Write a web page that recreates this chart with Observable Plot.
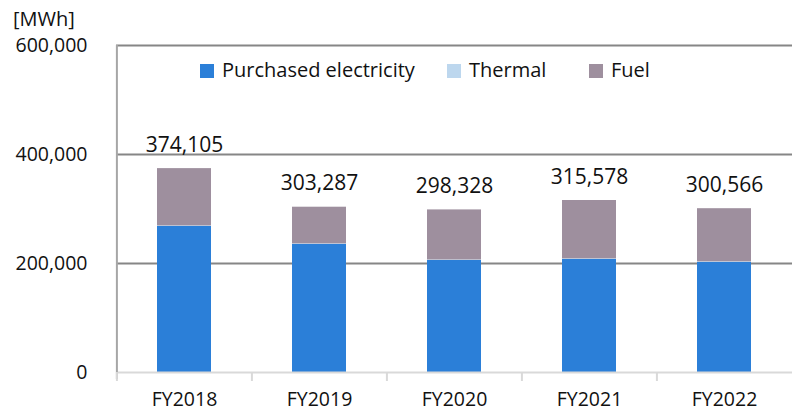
<!DOCTYPE html>
<html>
<head>
<meta charset="utf-8">
<script src="https://cdn.jsdelivr.net/npm/d3@7"></script>
<script src="https://cdn.jsdelivr.net/npm/@observablehq/plot@0.6"></script>
<style>
  html, body { margin: 0; padding: 0; background: #fff; overflow: hidden; }
  #wrap { position: relative; width: 792px; height: 412px; font-family: "Open Sans", "Noto Sans", sans-serif; }
  #wrap svg { position: absolute; left: 0; top: 0; }
  .unit { position: absolute; left: 13px; top: 5px; font-size: 20px; color: #111; z-index: 2; }
  .legend { position: absolute; top: 56px; left: 0; width: 792px; font-size: 20px; color: #111; z-index: 2; }
  .legend span.item { position: absolute; top: 0; white-space: nowrap; }
  .legend span.sw { display: inline-block; width: 14px; height: 14px; margin-right: 8px; vertical-align: -1px; }
</style>
</head>
<body>
<div id="wrap">
  <div class="unit">[MWh]</div>
  <div class="legend" id="legend"></div>
</div>
<script>
const categories = ["FY2018", "FY2019", "FY2020", "FY2021", "FY2022"];
const purchased = [268000, 235000, 205500, 207500, 202000];
const thermal   = [1000, 1000, 1000, 1000, 1000];
const totals    = [374105, 303287, 298328, 315578, 300566];
const fuel      = totals.map((t, i) => t - purchased[i] - thermal[i]);
const seriesNames = ["Purchased electricity", "Thermal", "Fuel"];
const seriesColors = ["#2b7fd8", "#bdd7ee", "#9e8f9e"];
const yTicks = [0, 200000, 400000, 600000];

const rows = [];
categories.forEach((c, i) => {
  rows.push({cat: c, series: seriesNames[0], value: purchased[i]});
  rows.push({cat: c, series: seriesNames[1], value: thermal[i]});
  rows.push({cat: c, series: seriesNames[2], value: fuel[i]});
});
const labelRows = categories.map((c, i) => ({cat: c, total: totals[i]}));

const W = 792, ML = 116, MR = 0;
const half = (W - ML - MR) / categories.length / 2;

const chart = Plot.plot({
  width: W,
  height: 412,
  marginLeft: ML,
  marginRight: MR,
  marginTop: 45,
  marginBottom: 40,
  style: {fontFamily: '"Open Sans", "Noto Sans", sans-serif', fontSize: "19px", color: "#111", background: "transparent"},
  x: {domain: categories, paddingInner: 0.6, paddingOuter: 0.3, label: null},
  y: {domain: [0, 600000], label: null},
  color: {domain: seriesNames, range: seriesColors},
  marks: [
    Plot.ruleY([200000, 400000, 600000], {stroke: "#868686", strokeWidth: 2}),
    Plot.barY(rows, Plot.stackY({x: "cat", y: "value", fill: "series", order: seriesNames})),
    Plot.ruleY([0], {stroke: "#d9d9d9", strokeWidth: 2}),
    Plot.ruleX([categories[0]], {dx: -half, stroke: "#a6a6a6", strokeWidth: 2, insetBottom: -7}),
    Plot.axisX({tickSize: 9, tickFormat: () => "", dx: -half, stroke: "#d9d9d9", strokeWidth: 2, tickPadding: 0}),
    Plot.axisX({tickSize: 0, tickPadding: 20, fontSize: 19.5}),
    Plot.axisY({ticks: yTicks, tickSize: 0, tickPadding: 29, tickFormat: d3.format(","), fontSize: 19.5}),
    Plot.text(labelRows, {x: "cat", y: "total", text: d => d3.format(",")(d.total), lineAnchor: "bottom", dy: -17, fontSize: 21, fill: "#111"})
  ]
});
document.getElementById("wrap").appendChild(chart);

const legendPos = [200, 447, 589];
const legend = document.getElementById("legend");
seriesNames.forEach((n, i) => {
  const s = document.createElement("span");
  s.className = "item";
  s.style.left = legendPos[i] + "px";
  s.innerHTML = `<span class="sw" style="background:${seriesColors[i]}"></span>${n}`;
  legend.appendChild(s);
});
</script>
</body>
</html>
